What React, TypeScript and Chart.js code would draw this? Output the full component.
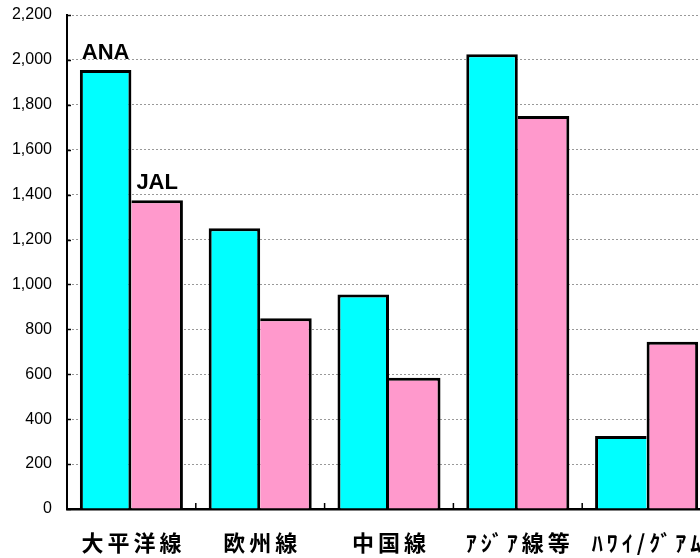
import React, { useEffect, useRef } from "react";
import { Chart, registerables } from "chart.js";

Chart.register(...registerables);

const categories = ["大平洋線", "欧州線", "中国線", "ｱｼﾞｱ線等", "ﾊﾜｲ/ｸﾞｱﾑ"];
const seriesNames = ["ANA", "JAL"];
const anaValues = [1955, 1250, 955, 2025, 325];
const jalValues = [1375, 850, 585, 1750, 745];
const yMax = 2200;
const yStep = 200;

const BORDER = 3;
const LETTER_SPACING = 4;

const seriesLabelPlugin = {
  id: "seriesLabels",
  afterDatasetsDraw(chart: any) {
    const ctx = chart.ctx;
    ctx.save();
    ctx.font = "bold 22px 'Liberation Sans', Arial, sans-serif";
    ctx.fillStyle = "#000";
    ctx.textAlign = "center";
    ctx.textBaseline = "alphabetic";
    chart.data.datasets.forEach((ds: any, i: number) => {
      const el = chart.getDatasetMeta(i).data[0];
      if (!el) return;
      ctx.fillText(seriesNames[i], el.x, el.y - 11);
    });
    ctx.restore();
  },
};

const xLabelsPlugin = {
  id: "xLabels",
  afterDraw(chart: any) {
    const { ctx, chartArea, scales } = chart;
    ctx.save();
    ctx.font = "bold 22px 'Noto Sans CJK JP', sans-serif";
    (ctx as any).letterSpacing = LETTER_SPACING + "px";
    ctx.fillStyle = "#000";
    ctx.textAlign = "center";
    ctx.textBaseline = "middle";
    categories.forEach((c, i) => {
      const x = scales.x.getPixelForValue(i) + LETTER_SPACING / 2;
      ctx.fillText(c, x, chartArea.bottom + 34);
    });
    ctx.restore();
  },
};

const insideTicksPlugin = {
  id: "insideTicks",
  afterDraw(chart: any) {
    const { ctx, chartArea, scales } = chart;
    ctx.save();
    ctx.strokeStyle = "#000";
    ctx.lineWidth = 1.5;
    ctx.beginPath();
    scales.y.ticks.forEach((t: any) => {
      const y = Math.round(scales.y.getPixelForValue(t.value)) + 0.5;
      ctx.moveTo(chartArea.left, y);
      ctx.lineTo(chartArea.left + 4, y);
    });
    for (let i = 1; i < categories.length; i++) {
      const x =
        (scales.x.getPixelForValue(i - 1) + scales.x.getPixelForValue(i)) / 2;
      ctx.moveTo(x, chartArea.bottom);
      ctx.lineTo(x, chartArea.bottom - 6);
    }
    ctx.stroke();
    ctx.restore();
  },
};

export default function App() {
  const ref = useRef<HTMLCanvasElement | null>(null);

  useEffect(() => {
    if (!ref.current) return;
    const chart = new Chart(ref.current, {
      type: "bar",
      data: {
        labels: categories,
        datasets: [
          {
            label: seriesNames[0],
            data: anaValues,
            backgroundColor: "#00FFFF",
            borderColor: "#000",
            borderWidth: (c: any) => {
              const i = c.dataIndex;
              const right = anaValues[i] >= jalValues[i] ? BORDER : 0;
              return { top: BORDER, left: BORDER, right, bottom: 0 };
            },
            borderSkipped: false,
            categoryPercentage: 0.8,
            barPercentage: 1.0,
          },
          {
            label: seriesNames[1],
            data: jalValues,
            backgroundColor: "#FF99CC",
            borderColor: "#000",
            borderWidth: (c: any) => {
              const i = c.dataIndex;
              const left = jalValues[i] > anaValues[i] ? BORDER : 0;
              return { top: BORDER, left, right: BORDER, bottom: 0 };
            },
            borderSkipped: false,
            categoryPercentage: 0.8,
            barPercentage: 1.0,
          },
        ],
      },
      options: {
        responsive: false,
        animation: false,
        layout: { padding: { top: 15, right: 0, left: 0, bottom: 0 } },
        plugins: {
          legend: { display: false },
          tooltip: { enabled: false },
        },
        scales: {
          x: {
            grid: { display: false, drawTicks: false },
            border: { display: true, color: "#000", width: 2.5 },
            ticks: { display: false },
            afterFit: (s: any) => {
              s.height = 49;
            },
          },
          y: {
            min: 0,
            max: yMax,
            ticks: {
              stepSize: yStep,
              color: "#000",
              padding: 15,
              font: { family: "'Liberation Sans', Arial, sans-serif", size: 16 },
              callback: (v: any) => Number(v).toLocaleString("en-US"),
            },
            grid: { color: "#999", lineWidth: 1, drawTicks: false },
            border: { display: true, color: "#000", width: 2, dash: [2, 2] },
            afterFit: (s: any) => {
              s.width = 67;
              s.paddingTop = 10;
              s.paddingBottom = 10;
            },
          },
        },
      },
      plugins: [seriesLabelPlugin, xLabelsPlugin, insideTicksPlugin],
    } as any);
    return () => chart.destroy();
  }, []);

  return (
    <div
      style={{
        position: "fixed",
        left: 0,
        top: 0,
        width: 700,
        height: 558,
        overflow: "hidden",
        background: "#fff",
      }}
    >
      <canvas ref={ref} width={711} height={558} style={{ display: "block" }} />
    </div>
  );
}
